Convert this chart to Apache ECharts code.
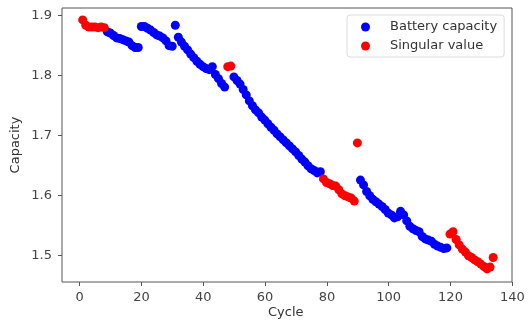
<!DOCTYPE html>
<html>
<head>
<meta charset="utf-8">
<script src="https://cdn.jsdelivr.net/npm/echarts@6/dist/echarts.min.js"></script>
<style>html,body{margin:0;padding:0;background:#fff;}#c{width:530px;height:322px;}</style>
</head>
<body>
<div id="c"></div>
<script>
// ---- data ----
const seriesNames = ["Battery capacity", "Singular value"];
const xTicks = [0, 20, 40, 60, 80, 100, 120, 140];
const yTicks = [1.5, 1.6, 1.7, 1.8, 1.9];

const blueCycles = [
  9,10,11,12,13,14,15,16,17,18,19,
  20,21,22,23,24,25,26,27,28,29,30,
  31,
  32,33,34,35,36,37,38,39,40,41,42,43,44,45,46,47,
  50,51,52,53,54,55,56,57,58,59,60,61,62,63,64,65,66,67,68,69,70,71,72,73,74,75,76,77,78,
  91,92,93,94,95,96,97,98,99,100,101,102,103,104,105,106,107,108,109,110,111,112,113,114,115,116,117,118,119
];
const blueValues = [
  1.873,1.871,1.867,1.863,1.862,1.860,1.858,1.856,1.850,1.847,1.847,
  1.882,1.882,1.879,1.876,1.872,1.868,1.866,1.863,1.858,1.850,1.849,
  1.884,
  1.864,1.856,1.849,1.843,1.836,1.830,1.824,1.819,1.815,1.812,1.810,1.815,1.802,1.795,1.787,1.781,
  1.798,1.792,1.786,1.777,1.768,1.758,1.750,1.743,1.738,1.731,1.726,1.720,1.714,1.709,1.703,1.698,1.693,1.688,1.683,1.678,1.673,1.667,1.661,1.656,1.650,1.645,1.642,1.638,1.640,
  1.626,1.618,1.607,1.600,1.594,1.590,1.586,1.582,1.577,1.571,1.568,1.563,1.565,1.574,1.568,1.558,1.549,1.545,1.542,1.540,1.532,1.528,1.526,1.524,1.519,1.516,1.514,1.512,1.513
];
const redCycles = [
  1,2,3,4,5,6,7,8,
  48,49,
  79,80,81,82,83,84,85,86,87,88,89,
  90,
  120,121,122,123,124,125,126,127,128,129,130,131,132,133,134
];
const redValues = [
  1.893,1.884,1.881,1.881,1.881,1.880,1.881,1.880,
  1.815,1.816,
  1.628,1.622,1.620,1.617,1.616,1.610,1.603,1.600,1.598,1.596,1.591,
  1.688,
  1.536,1.540,1.527,1.518,1.511,1.506,1.500,1.497,1.493,1.490,1.486,1.482,1.478,1.481,1.497
];

// ---- chart ----
const FONT = "DejaVu Sans";
const AX = "#555";
const LBL = "#444";
const zip = (a, b) => a.map((v, i) => [v, b[i]]);

const chart = echarts.init(document.getElementById('c'), null, {renderer: 'canvas'});
chart.setOption({
  animation: false,
  backgroundColor: '#fff',
  grid: [
    {left: 62, top: 8, width: 450, height: 274, show: true, borderColor: AX, borderWidth: 1, backgroundColor: 'transparent'},
    {left: 79.7, top: 8, width: 432.6, height: 274},
    {left: 62, top: 15.7, width: 450, height: 240}
  ],
  xAxis: [
    {type: 'value', gridIndex: 0, min: -5.7, max: 140.1, show: false, splitLine: {show: false}},
    {type: 'value', gridIndex: 1, min: xTicks[0], max: xTicks[xTicks.length - 1], interval: 20,
      axisLine: {show: false}, splitLine: {show: false},
      axisTick: {show: true, inside: false, length: 4, lineStyle: {color: AX, width: 1}},
      axisLabel: {show: true, margin: 9, color: LBL, fontSize: 13, fontFamily: FONT}},
    {type: 'value', gridIndex: 2, min: 0, max: 1, show: false, splitLine: {show: false}}
  ],
  yAxis: [
    {type: 'value', gridIndex: 0, min: 1.4562, max: 1.9128, show: false, splitLine: {show: false}},
    {type: 'value', gridIndex: 1, min: 0, max: 1, show: false, splitLine: {show: false}},
    {type: 'value', gridIndex: 2, min: yTicks[0], max: yTicks[yTicks.length - 1], interval: 0.1,
      axisLine: {show: false}, splitLine: {show: false},
      axisTick: {show: true, inside: false, length: 4, lineStyle: {color: AX, width: 1}},
      axisLabel: {show: true, margin: 10, color: LBL, fontSize: 13, fontFamily: FONT,
        formatter: v => v.toFixed(1)}}
  ],
  legend: {
    orient: 'vertical', left: 347, top: 15,
    padding: [5, 7, 4, 14],
    backgroundColor: 'rgba(255,255,255,0.85)', borderColor: '#dcdcdc', borderWidth: 1, borderRadius: 3,
    itemWidth: 9, itemHeight: 9, itemGap: 5, icon: 'circle',
    textStyle: {fontSize: 13, fontFamily: FONT, color: '#333', lineHeight: 14, padding: [0, 0, 0, 15]},
    data: seriesNames
  },
  graphic: [
    {type: 'text', top: 306, left: 268, style: {text: 'Cycle', fontSize: 13, fontFamily: FONT, fill: '#333'}},
    {type: 'text', rotation: Math.PI / 2, x: 16, y: 145,
      style: {text: 'Capacity', fontSize: 13, fontFamily: FONT, fill: '#333', align: 'center', verticalAlign: 'middle'}}
  ],
  series: [
    {name: seriesNames[0], type: 'scatter', xAxisIndex: 0, yAxisIndex: 0, symbol: 'circle', symbolSize: 9,
      itemStyle: {color: '#0000ff', opacity: 1}, data: zip(blueCycles, blueValues)},
    {name: seriesNames[1], type: 'scatter', xAxisIndex: 0, yAxisIndex: 0, symbol: 'circle', symbolSize: 9,
      itemStyle: {color: '#ff0000', opacity: 1}, data: zip(redCycles, redValues)}
  ]
});
</script>
</body>
</html>
